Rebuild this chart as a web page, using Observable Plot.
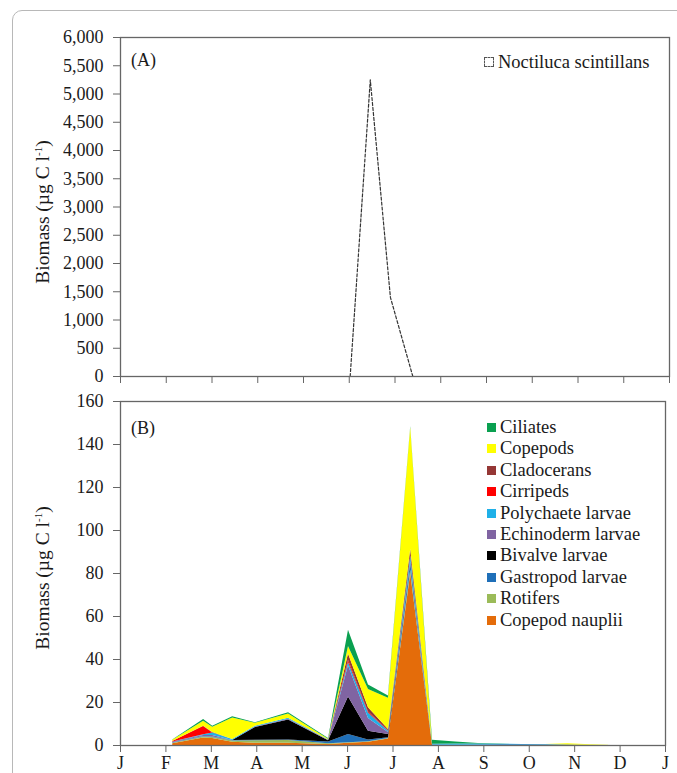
<!DOCTYPE html>
<html>
<head>
<meta charset="utf-8">
<script src="https://cdn.jsdelivr.net/npm/d3@7"></script>
<script src="https://cdn.jsdelivr.net/npm/@observablehq/plot@0.6"></script>
<style>
  html, body { margin: 0; padding: 0; background: #fff; }
  body { width: 677px; height: 773px; position: relative; overflow: hidden; font-family: "Liberation Serif", "Times New Roman", serif; color: #1a1a1a; }
  .frame { position: absolute; left: 12px; top: 10px; width: 800px; height: 900px; border: 1px solid #b8b8b8; border-radius: 10px; }
  .panel { position: absolute; left: 0; }
  .ylab { position: absolute; font-size: 19.5px; white-space: nowrap; transform: translate(-50%, -50%) rotate(-90deg); line-height: 1; }
  .ylab sup { font-size: 11px; vertical-align: 7px; }
  .ptag { position: absolute; font-size: 18px; }
  .leg { position: absolute; font-size: 18.5px; white-space: nowrap; line-height: 1; }
  .sw { display: inline-block; width: 9px; height: 9px; margin-right: 4px; vertical-align: 1px; }
</style>
</head>
<body>
<div class="frame"></div>
<div id="a" class="panel" style="top:0"></div>
<div id="b" class="panel" style="top:380px"></div>
<script>
// ---- data ----
const monthTicks = [0, 1, 2, 3, 4, 5, 6, 7, 8, 9, 10, 11, 12];
const monthLabels = ["J", "F", "M", "A", "M", "J", "J", "A", "S", "O", "N", "D", "J"];
const yTicksA = [0, 500, 1000, 1500, 2000, 2500, 3000, 3500, 4000, 4500, 5000, 5500, 6000];
const yTicksB = [0, 20, 40, 60, 80, 100, 120, 140, 160];

// Panel A: Noctiluca scintillans
const noctDates = [5.02, 5.46, 5.90, 6.39];
const noctBiomass = [0, 5250, 1400, 0];

// Panel B: sampling dates (fractional month) and stacked groups
const sampleDates = [1.15, 1.83, 2.03, 2.47, 2.97, 3.70, 4.58, 5.02, 5.46, 5.90, 6.39, 6.87, 7.38, 7.88, 8.37, 8.85, 9.36, 9.85, 10.35, 10.85, 11.33];
const copepodNauplii   = [0.8, 3.5, 3.2, 1.5, 1.0, 1.0, 0.5, 1.0, 1.5, 3.0, 80.0, 0, 0, 0, 0, 0, 0, 0, 0, 0, 0];
const rotifers         = [0.3, 0.4, 0.5, 0.6, 1.2, 1.3, 0.3, 0.3, 0.3, 0.3, 1.5, 0, 0, 0, 0, 0, 0.1, 0.3, 0.1, 0, 0];
const gastropodLarvae  = [0.2, 0.3, 0.3, 0.2, 0.2, 0.3, 0.8, 3.8, 0.8, 0.3, 3.0, 0.2, 0.1, 0.2, 0.3, 0.3, 0.3, 0.1, 0, 0, 0];
const bivalveLarvae    = [0, 0, 0, 0, 6.0, 9.3, 0.6, 17.5, 4.0, 1.5, 0.5, 0, 0, 0, 0, 0, 0, 0, 0, 0, 0];
const echinodermLarvae = [0.3, 0.5, 0.6, 0, 0.2, 0.3, 0.2, 14.5, 6.0, 1.0, 0.5, 0, 0, 0, 0, 0, 0, 0, 0, 0, 0];
const polychaeteLarvae = [0, 0.3, 1.2, 0.5, 0.3, 0.5, 0.2, 1.5, 2.5, 0.5, 2.5, 0.4, 0.6, 0.5, 0.3, 0.2, 0.1, 0, 0, 0, 0];
const cirripeds        = [0.3, 3.8, 0, 0, 0, 0, 0, 1.0, 0.5, 0.3, 0.3, 0, 0, 0, 0, 0, 0, 0, 0, 0, 0];
const cladocerans      = [0, 0.2, 0.2, 0, 0, 0, 0, 3.0, 2.0, 0.6, 3.0, 0, 0, 0, 0, 0, 0, 0, 0, 0, 0];
const copepods         = [0.5, 2.3, 2.5, 10.0, 1.4, 2.0, 0.3, 3.5, 8.5, 14.5, 56.5, 0, 0, 0, 0, 0, 0, 0.4, 0.2, 0, 0];
const ciliates         = [0.2, 0.8, 0.5, 0.6, 0.3, 0.5, 0.3, 7.5, 2.0, 1.0, 0.5, 1.8, 0.9, 0.2, 0.1, 0, 0, 0, 0, 0, 0];

const seriesNames = ["Copepod nauplii", "Rotifers", "Gastropod larvae", "Bivalve larvae", "Echinoderm larvae", "Polychaete larvae", "Cirripeds", "Cladocerans", "Copepods", "Ciliates"];
const seriesColors = ["#e46c0a", "#9bbb59", "#1f6fb8", "#000000", "#8064a2", "#1fb0e8", "#ff0000", "#953735", "#ffff00", "#0aa050"];
const seriesValues = [copepodNauplii, rotifers, gastropodLarvae, bivalveLarvae, echinodermLarvae, polychaeteLarvae, cirripeds, cladocerans, copepods, ciliates];

// ---- tables ----
const noct = noctDates.map((d, i) => ({date: d, value: noctBiomass[i]}));
const stacked = seriesNames.flatMap((name, s) => sampleDates.map((d, i) => ({date: d, value: seriesValues[s][i], group: name})));

const baseStyle = {fontFamily: "'Liberation Serif', 'Times New Roman', serif", fontSize: "18px", color: "#1a1a1a", overflow: "visible", background: "transparent"};
const commaFmt = d3.format(",");

// ---- Panel A ----
const plotA = Plot.plot({
  width: 677, height: 400,
  marginLeft: 120, marginRight: 8, marginTop: 37, marginBottom: 24,
  style: baseStyle,
  x: {domain: [0, 12]},
  y: {domain: [0, 6000]},
  marks: [
    Plot.line(noct, {x: "date", y: "value", stroke: "#333", strokeWidth: 1.2, strokeDasharray: "3,2", curve: "linear"}),
    Plot.frame({stroke: "#666", strokeWidth: 1.3}),
    Plot.axisY({ticks: yTicksA, tickFormat: commaFmt, tickSize: 7, tickPadding: 10, stroke: "#666", label: null, fontSize: 18}),
    Plot.axisX({ticks: monthTicks, tickFormat: () => "", tickSize: 7, stroke: "#666", label: null})
  ]
});
document.getElementById("a").appendChild(plotA);

// ---- Panel B ----
const plotB = Plot.plot({
  width: 677, height: 393,
  marginLeft: 120, marginRight: 12, marginTop: 21, marginBottom: 28,
  style: baseStyle,
  x: {domain: [0, 12]},
  y: {domain: [0, 160]},
  color: {domain: seriesNames, range: seriesColors},
  marks: [
    Plot.areaY(stacked, {x: "date", y: "value", z: "group", fill: "group", curve: "linear"}),
    Plot.frame({stroke: "#666", strokeWidth: 1.3}),
    Plot.axisY({ticks: yTicksB, tickSize: 7, tickPadding: 10, stroke: "#666", label: null, fontSize: 18}),
    Plot.axisX({ticks: monthTicks, tickFormat: i => monthLabels[i], tickSize: 7, tickPadding: 4, stroke: "#666", label: null, fontSize: 18})
  ]
});
document.getElementById("b").appendChild(plotB);

// ---- annotations / legends ----
function addDiv(cls, html, left, top) {
  const el = document.createElement("div");
  el.className = cls;
  el.innerHTML = html;
  el.style.left = left + "px";
  el.style.top = top + "px";
  document.body.appendChild(el);
  return el;
}
addDiv("ylab", "Biomass (µg C l<sup>-1</sup>)", 43, 212);
addDiv("ylab", "Biomass (µg C l<sup>-1</sup>)", 43, 578);
addDiv("ptag", "(A)", 131, 50);
addDiv("ptag", "(B)", 131, 418);
addDiv("leg", '<span class="sw" style="width:8px;height:8px;border:1px dashed #555;background:#fff"></span>Noctiluca scintillans', 484, 53);

const legendOrder = seriesNames.slice().reverse();
legendOrder.forEach((name, i) => {
  const color = seriesColors[seriesNames.indexOf(name)];
  addDiv("leg", `<span class="sw" style="background:${color}"></span>${name}`, 487, 418 + i * 21.4);
});
</script>
</body>
</html>
